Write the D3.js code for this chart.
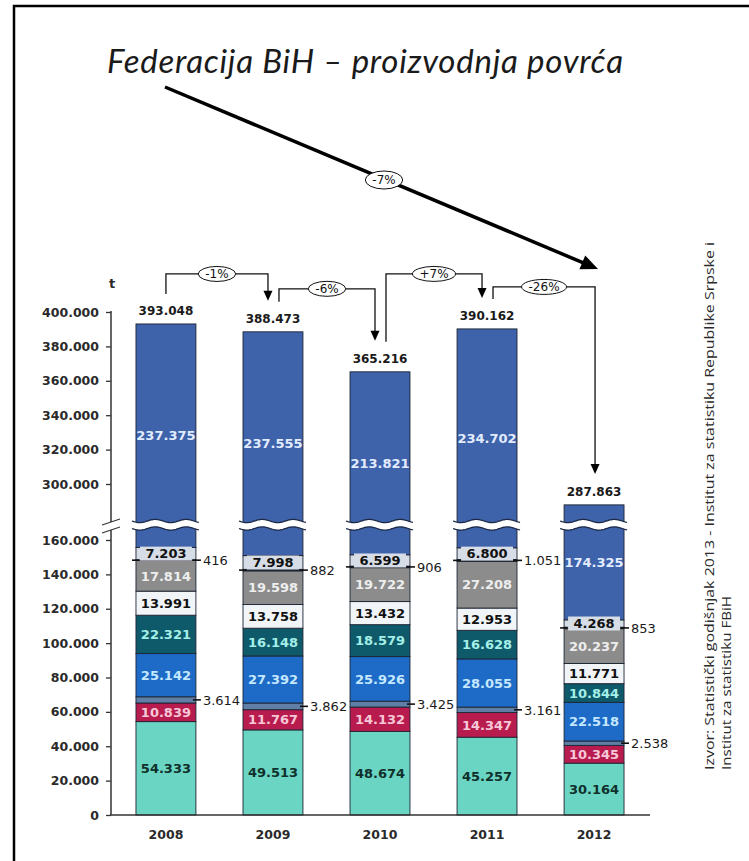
<!DOCTYPE html>
<html><head><meta charset="utf-8">
<script src="https://cdn.jsdelivr.net/npm/d3@7"></script>
<style>body{margin:0;background:#fff;} svg{display:block;}</style>
</head><body>
<svg id="c" width="749" height="861"></svg>
<script>
// ---------------- DATA ----------------
const years = ["2008", "2009", "2010", "2011", "2012"];
const s1  = [54333, 49513, 48674, 45257, 30164];
const s2  = [10839, 11767, 14132, 14347, 10345];
const s3  = [3614, 3862, 3425, 3161, 2538];
const s4  = [25142, 27392, 25926, 28055, 22518];
const s5  = [22321, 16148, 18579, 16628, 10844];
const s6  = [13991, 13758, 13432, 12953, 11771];
const s7  = [17814, 19598, 19722, 27208, 20237];
const s8  = [416, 882, 906, 1051, 853];
const s9  = [7203, 7998, 6599, 6800, 4268];
const s10 = [237375, 237555, 213821, 234702, 174325];
const totals = [393048, 388473, 365216, 390162, 287863];
const lowTicks  = [0, 20000, 40000, 60000, 80000, 100000, 120000, 140000, 160000];
const highTicks = [300000, 320000, 340000, 360000, 380000, 400000];
const changeLabels = ["-1%", "-6%", "+7%", "-26%"];
const trendLabel = "-7%";
const unitLabel = "t";
const titleText = "Federacija BiH \u2013 proizvodnja povr\u0107a";
const sourceLines = [
  "Izvor: Statisti\u010dki godi\u0161njak 2013 - Institut za statistiku Republike Srpske i",
  "Institut za statistiku FBiH"
];

// ---------------- LAYOUT / STYLE ----------------
const keys = ["s1","s2","s3","s4","s5","s6","s7","s8","s9","s10"];
const seriesArrays = {s1,s2,s3,s4,s5,s6,s7,s8,s9,s10};
const fills = {s1:"#6bd5c3", s2:"#b81c4e", s3:"#5f7fa6", s4:"#1d6bc6", s5:"#0e5a6a",
  s6:"#f1f5f8", s7:"#8c8c8c", s8:"#151515", s9:"#d7dde6", s10:"#3e63aa"};
const labelFill = {s1:"#10302c", s2:"#f7c8d8", s4:"#c4e8ff", s5:"#a4efe8", s6:"#111",
  s7:"#eeeeee", s9:"#111", s10:"#e3ecff"};
const outside = new Set(["s3","s8"]);
const boxed = new Set(["s9"]);
const FONT = "'DejaVu Sans', Verdana, sans-serif";

const svg = d3.select("#c");
svg.append("rect").attr("width",749).attr("height",861).attr("fill","#fff");

// frame
svg.append("path").attr("d","M14,870V6H760").attr("fill","none").attr("stroke","#000").attr("stroke-width",2.5);

// title
svg.append("text").attr("x",107).attr("y",73)
  .attr("font-family","Lato, 'Open Sans', sans-serif").attr("font-style","italic")
  .attr("font-size",33).attr("textLength",516).attr("lengthAdjust","spacing")
  .attr("fill","#1a1a1a").text(titleText);

// scales
const x = d3.scaleBand().domain(years).range([112, 648]).paddingInner(0.44).paddingOuter(0.224);
const yLow = d3.scaleLinear().domain([0, 160000]).range([815, 540]);
const yHigh = d3.scaleLinear().domain([300000, 400000]).range([484, 312]);
const LOW_TOP = 526, HIGH_BOT = 524;
const lowMax = yLow.invert(LOW_TOP);
const highMin = yHigh.invert(HIGH_BOT);

const fmt = d3.formatLocale({decimal:",", thousands:".", grouping:[3], currency:["",""]}).format(",d");

// table
const table = years.map((yr, i) => {
  const row = {year: yr};
  keys.forEach(k => row[k] = seriesArrays[k][i]);
  return row;
});
const stacked = d3.stack().keys(keys)(table);

function segTop(v) { return v > highMin ? yHigh(v) : yLow(v); }
function segBot(v) { return v < lowMax ? yLow(v) : yHigh(v); }

const gBars = svg.append("g");
stacked.forEach(layer => {
  const k = layer.key;
  layer.forEach((d, i) => {
    const x0 = x(years[i]), w = x.bandwidth();
    const v0 = d[0], v1 = d[1];
    if (v0 < lowMax) {
      const top = yLow(Math.min(v1, lowMax)), bot = yLow(v0);
      gBars.append("rect").attr("x",x0).attr("y",top).attr("width",w).attr("height",Math.max(bot-top,0.6))
        .attr("fill",fills[k]).attr("stroke","#1c2433").attr("stroke-width",0.9);
    }
    if (v1 > highMin) {
      const top = yHigh(v1), bot = yHigh(Math.max(v0, highMin));
      gBars.append("rect").attr("x",x0).attr("y",top).attr("width",w).attr("height",bot-top)
        .attr("fill",fills[k]).attr("stroke","#1c2433").attr("stroke-width",0.9);
    }
  });
});

// wavy break bands
function wave(x0, x1, base, amp, period) {
  const pts = [];
  for (let xx = x0; xx <= x1 + 0.01; xx += 1) pts.push([xx, base + amp * Math.sin(2 * Math.PI * (xx - x0) / period)]);
  return pts;
}
const gBreak = svg.append("g");
years.forEach(yr => {
  const x0 = x(yr) - 4, x1 = x(yr) + x.bandwidth() + 4;
  const top = wave(x0, x1, 521, 1.6, 31);
  const bot = wave(x0, x1, 528.5, 1.6, 31);
  const band = top.concat(bot.slice().reverse());
  gBreak.append("path").attr("d", d3.line()(band) + "Z").attr("fill","#fff");
  gBreak.append("path").attr("d", d3.line()(top)).attr("fill","none").attr("stroke","#1c2a48").attr("stroke-width",1.3);
  gBreak.append("path").attr("d", d3.line()(bot)).attr("fill","none").attr("stroke","#1c2a48").attr("stroke-width",1.3);
});

// segment labels
const gLab = svg.append("g").attr("font-family",FONT);
stacked.forEach(layer => {
  const k = layer.key;
  layer.forEach((d, i) => {
    const x0 = x(years[i]), w = x.bandwidth(), x1 = x0 + w;
    const cy = (segTop(d[1]) + segBot(d[0])) / 2;
    const val = d[1] - d[0];
    if (outside.has(k)) {
      if (k === "s8") {
        gLab.append("line").attr("x1",x0-4).attr("x2",x0+3).attr("y1",cy).attr("y2",cy)
          .attr("stroke","#111").attr("stroke-width",1.6);
      }
      gLab.append("line").attr("x1",x1-3).attr("x2",x1+5).attr("y1",cy).attr("y2",cy)
        .attr("stroke","#111").attr("stroke-width",1.6);
      gLab.append("text").attr("x",x1+7).attr("y",cy).attr("dy","0.36em")
        .attr("font-size",13).attr("fill","#1a1a1a").text(fmt(val));
    } else {
      if (boxed.has(k)) {
        gLab.append("rect").attr("x",x0+4).attr("y",cy-7).attr("width",w-8).attr("height",14)
          .attr("fill",fills[k]);
      }
      gLab.append("text").attr("x",x0 + w/2).attr("y",cy).attr("dy","0.36em")
        .attr("text-anchor","middle").attr("font-size",13).attr("font-weight","bold")
        .attr("fill",labelFill[k]).text(fmt(val));
    }
  });
});

// totals above bars
const tops = totals.map(t => segTop(t));
const cx = years.map(yr => x(yr) + x.bandwidth()/2);
totals.forEach((t, i) => {
  svg.append("text").attr("x",cx[i]).attr("y",tops[i]-9).attr("text-anchor","middle")
    .attr("font-family",FONT).attr("font-weight","bold").attr("font-size",12).attr("fill","#1a1a1a")
    .text(fmt(t));
});

// axes
const gAx = svg.append("g").attr("font-family",FONT);
const axLow = d3.axisLeft(yLow).tickValues(lowTicks).tickSize(5).tickPadding(7).tickFormat(fmt);
const axHigh = d3.axisLeft(yHigh).tickValues(highTicks).tickSize(5).tickPadding(7).tickFormat(fmt);
[axLow, axHigh].forEach(ax => {
  const g = gAx.append("g").attr("transform","translate(111,0)").call(ax);
  g.select(".domain").remove();
  g.selectAll("line").attr("stroke","#333").attr("stroke-width",1.3);
  g.selectAll("text").attr("font-family",FONT).attr("font-weight","bold").attr("font-size",12.5).attr("fill","#2a2a2a");
});
gAx.append("line").attr("x1",111).attr("x2",111).attr("y1",yHigh(400000)-1).attr("y2",522).attr("stroke","#333").attr("stroke-width",1.5);
gAx.append("line").attr("x1",111).attr("x2",111).attr("y1",530).attr("y2",815).attr("stroke","#333").attr("stroke-width",1.5);
gAx.append("line").attr("x1",102).attr("y1",525).attr("x2",120).attr("y2",519).attr("stroke","#333").attr("stroke-width",1.3);
gAx.append("line").attr("x1",102).attr("y1",533).attr("x2",120).attr("y2",527).attr("stroke","#333").attr("stroke-width",1.3);
gAx.append("text").attr("x",112).attr("y",288).attr("text-anchor","middle").attr("font-weight","bold")
  .attr("font-size",13).attr("fill","#2a2a2a").text(unitLabel);

const axX = d3.axisBottom(x).tickSize(0).tickPadding(15);
const gx = gAx.append("g").attr("transform","translate(0,815)").call(axX);
gx.select(".domain").remove();
gx.selectAll("text").attr("font-family",FONT).attr("font-weight","bold").attr("font-size",12.5).attr("fill","#2a2a2a");
gAx.append("line").attr("x1",110).attr("x2",650).attr("y1",815).attr("y2",815).attr("stroke","#333").attr("stroke-width",1.5);

// change connectors
const riseOffsets = [-50, -43, -55, -42];
const gCon = svg.append("g").attr("font-family",FONT);
function arrowHead(g, tx, ty, dx, dy, len, half) {
  const L = Math.hypot(dx, dy), ux = dx/L, uy = dy/L;
  const bx = tx - ux*len, by = ty - uy*len;
  g.append("path").attr("d", `M${tx},${ty}L${bx - uy*half},${by + ux*half}L${bx + uy*half},${by - ux*half}Z`).attr("fill","#000");
}
function pill(g, px, py, label, fs, ry) {
  const t = g.append("text").attr("x",px).attr("y",py).attr("dy","0.36em").attr("text-anchor","middle")
    .attr("font-size",fs).attr("fill","#111").text(label);
  const bw = t.node().getComputedTextLength();
  g.insert("ellipse", () => t.node()).attr("cx",px).attr("cy",py).attr("rx",bw/2+7).attr("ry",ry)
    .attr("fill","#fff").attr("stroke","#111").attr("stroke-width",1);
}
for (let i = 0; i < 4; i++) {
  const j = i + 1;
  const xs = cx[i] + (i === 0 ? 0 : 6);
  const xe = cx[j] + (j === 4 ? 1 : -5);
  const ys = tops[i] - 30;
  const level = Math.min(tops[i], tops[j]) + riseOffsets[i];
  const tip = tops[j] - 31;
  gCon.append("path").attr("d", `M${xs},${ys}V${level}H${xe}V${tip-8}`).attr("fill","none")
    .attr("stroke","#111").attr("stroke-width",1.3);
  arrowHead(gCon, xe, tip, 0, 1, 10, 4.5);
  pill(gCon, (xs+xe)/2, level, changeLabels[i], 12, 7.5);
}

// overall trend arrow
const ax0 = 165, ay0 = 87, ax1 = 598, ay1 = 269;
const dL = Math.hypot(ax1-ax0, ay1-ay0);
gCon.append("line").attr("x1",ax0).attr("y1",ay0)
  .attr("x2",ax1 - (ax1-ax0)/dL*12).attr("y2",ay1 - (ay1-ay0)/dL*12)
  .attr("stroke","#000").attr("stroke-width",3.5);
arrowHead(gCon, ax1, ay1, ax1-ax0, ay1-ay0, 17, 7.5);
pill(gCon, 384, 180, trendLabel, 12, 9);

// source text
const gs = svg.append("g").attr("transform","translate(714,770) rotate(-90)")
  .attr("font-family","'Open Sans', 'Liberation Sans', sans-serif").attr("font-size",12).attr("fill","#2a2a2a");
gs.append("text").attr("x",0).attr("y",0).attr("textLength",528).attr("lengthAdjust","spacingAndGlyphs").text(sourceLines[0]);
gs.append("text").attr("x",0).attr("y",17).attr("textLength",174).attr("lengthAdjust","spacingAndGlyphs").text(sourceLines[1]);
</script>
</body></html>
